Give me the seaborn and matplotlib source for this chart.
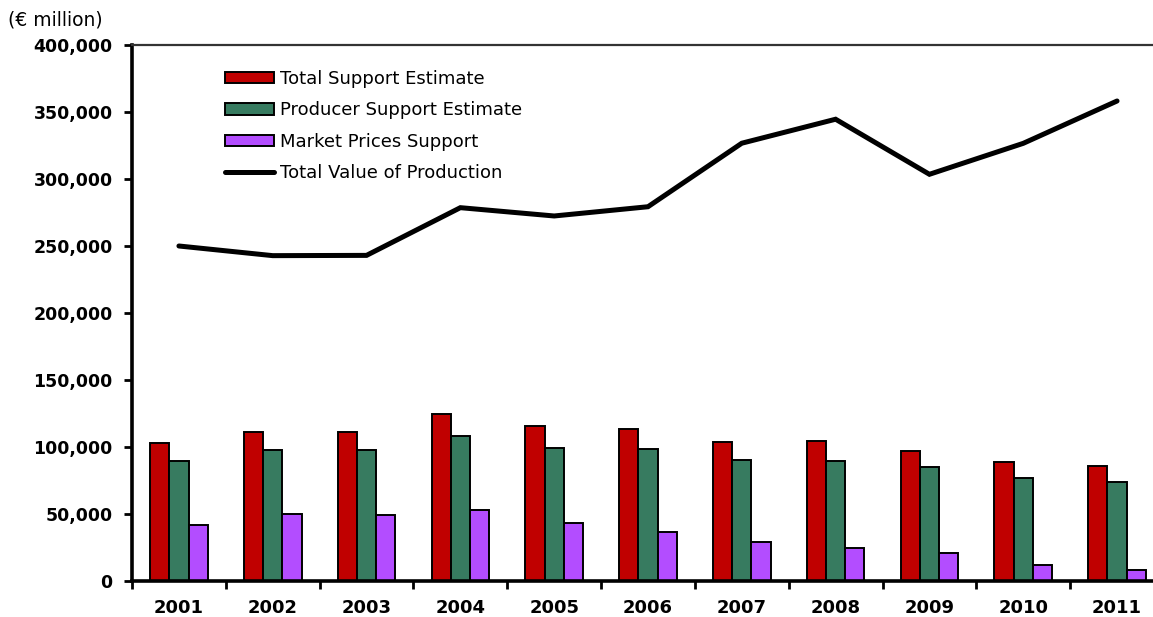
import numpy as np
import pandas as pd
import matplotlib
matplotlib.use("Agg")
import matplotlib.pyplot as plt
from matplotlib.patches import Patch
from matplotlib.lines import Line2D
from matplotlib.ticker import FuncFormatter, MultipleLocator, FixedLocator
import seaborn as sns

# Agricultural support indicators (EUR million)
years = ["2001", "2002", "2003", "2004", "2005", "2006", "2007", "2008", "2009", "2010", "2011"]
total_support = [103200, 111200, 111000, 124600, 115700, 113200, 104000, 104700, 97000, 89000, 85800]
producer_support = [89600, 97800, 97800, 108200, 99000, 98500, 90300, 89800, 85100, 76900, 73900]
market_price_support = [41800, 49800, 49300, 53000, 43000, 36300, 29300, 24600, 20900, 11700, 8200]
production_value = [250000, 242800, 243000, 278600, 272400, 279300, 326700, 344600, 303500, 326600, 358200]

series_names = ["Total Support Estimate", "Producer Support Estimate", "Market Prices Support"]
line_name = "Total Value of Production"
colors = ["#C00000", "#377B60", "#B34DFF"]

sns.set_theme(style="white")
plt.rcParams["font.family"] = ["DejaVu Sans"]
plt.rcParams["text.color"] = "black"
plt.rcParams["axes.labelcolor"] = "black"
plt.rcParams["xtick.color"] = "black"
plt.rcParams["ytick.color"] = "black"

df = pd.DataFrame({
    "year": years * 3,
    "value": total_support + producer_support + market_price_support,
    "series": [s for s in series_names for _ in years],
})

fig = plt.figure(figsize=(11.53, 6.17), dpi=100)
ax = fig.add_axes([0.1145, 0.0583, 0.8950, 0.8688])

sns.barplot(data=df, x="year", y="value", hue="series", order=years,
            hue_order=series_names, palette=colors, width=0.615,
            edgecolor="black", linewidth=1.4, saturation=1, ax=ax, legend=False)

line_df = pd.DataFrame({"pos": np.arange(len(years)), "value": production_value})
sns.lineplot(data=line_df, x="pos", y="value", color="black", linewidth=3.6,
             solid_capstyle="round", solid_joinstyle="miter", ax=ax)

ax.set_xlim(-0.5, len(years) - 0.5)
ax.set_ylim(0, 400000)
ax.yaxis.set_major_locator(MultipleLocator(50000))
ax.yaxis.set_major_formatter(FuncFormatter(lambda v, p: f"{int(v):,}"))
ax.set_xlabel("")
ax.set_ylabel("")

# Spines
for side in ["left", "bottom"]:
    ax.spines[side].set_linewidth(2.6)
    ax.spines[side].set_color("black")
ax.spines["top"].set_linewidth(1.6)
ax.spines["top"].set_color("#333333")
ax.spines["right"].set_visible(False)

# Ticks: y outward, x ticks at category boundaries
ax.tick_params(axis="y", which="major", direction="out", length=6, width=2,
               color="black", left=True, pad=8, labelsize=12.5)
ax.xaxis.set_minor_locator(FixedLocator(np.arange(-0.5, len(years), 1.0)))
ax.tick_params(axis="x", which="major", length=0, pad=13, labelsize=13)
ax.tick_params(axis="x", which="minor", direction="out", length=6, width=2,
               color="black", bottom=True)
for lbl in ax.get_xticklabels() + ax.get_yticklabels():
    lbl.set_fontweight("bold")
    lbl.set_color("black")

fig.text(0.007, 0.967, "(\u20ac million)", fontsize=13.5, ha="left", va="center", color="black")

handles = [Patch(facecolor=c, edgecolor="black", linewidth=1.4) for c in colors]
handles.append(Line2D([], [], color="black", linewidth=3.6, solid_capstyle="round"))
leg = ax.legend(handles, series_names + [line_name], loc="upper left",
                bbox_to_anchor=(0.195, 0.887), bbox_transform=fig.transFigure,
                frameon=False, fontsize=13, handlelength=2.7, handleheight=0.6,
                handletextpad=0.33, labelspacing=0.75, borderpad=0, borderaxespad=0)
for t in leg.get_texts():
    t.set_color("black")

fig.savefig("out.png", dpi=100)
